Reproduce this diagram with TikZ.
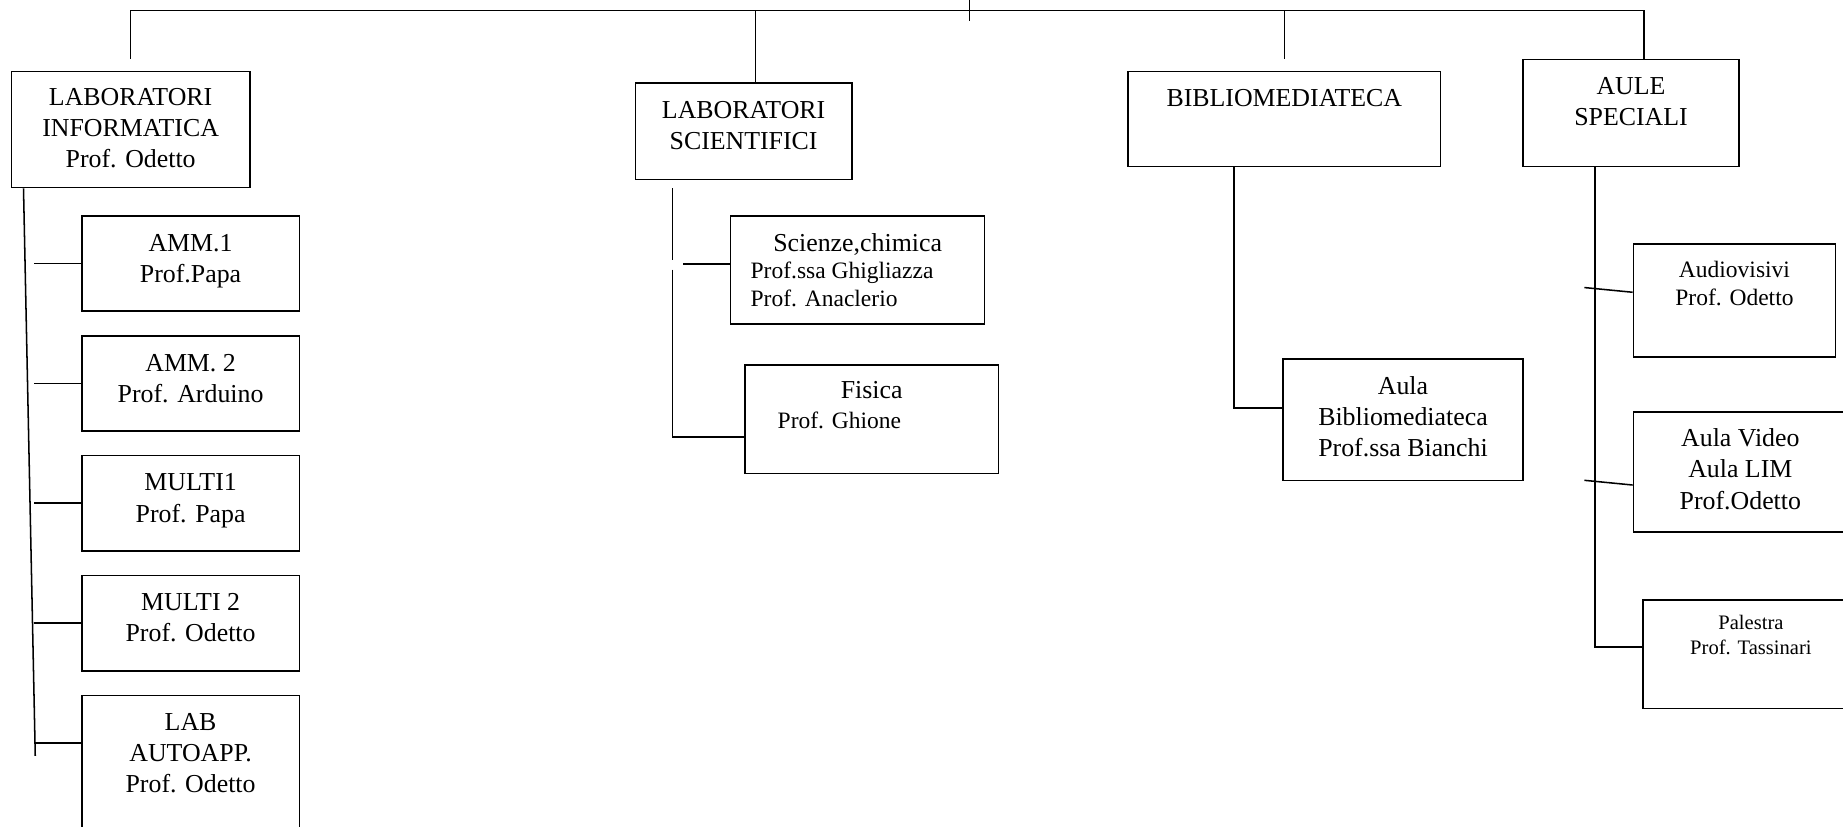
\documentclass[tikz,border=0pt]{standalone}
\usepackage{fontspec}
\setmainfont{Liberation Serif}
\newcommand{\alto}{\rule{0pt}{17pt}}
\tikzset{
  ufficio/.style={draw, line width=1.3pt, inner sep=0pt, anchor=north west},
  testo/.style={inner sep=0pt, anchor=north, align=center, font=\fontsize{22}{26.5}\selectfont},
  testopic/.style={testo, font=\fontsize{20}{24}\selectfont},
  testomin/.style={testo, font=\fontsize{17.5}{21}\selectfont},
}

\begin{document}
\begin{tikzpicture}[x=1pt, y=-1pt, line width=1.3pt]
        \clip (0,0) rectangle (1568,703);
        \fill[white] (0,0) rectangle (1568,703);
        % primo livello
        \node[ufficio, minimum width=203pt, minimum height=99pt] (info) at (9,60) {};
        \node[ufficio, minimum width=184pt, minimum height=82pt] (sci) at (540,70) {};
        \node[ufficio, minimum width=266pt, minimum height=81pt] (bib) at (959,60) {};
        \node[ufficio, minimum width=184pt, minimum height=91pt] (aule) at (1295,50) {};
        \node[testo] (infot) at ([yshift=-12pt]info.north) {\alto LABORATORI\\INFORMATICA\\Prof. Odetto};
        \node[testo] (scit) at ([yshift=-13pt]sci.north) {\alto LABORATORI\\SCIENTIFICI};
        \node[testo] (bibt) at ([yshift=-13pt]bib.north) {\alto BIBLIOMEDIATECA};
        \node[testo] (aulet) at ([yshift=-13pt]aule.north) {\alto AULE\\SPECIALI};
        % laboratori informatica
        \node[ufficio, minimum width=185pt, minimum height=81pt] (amm1) at (69,183) {};
        \node[ufficio, minimum width=185pt, minimum height=81pt] (amm2) at (69,285) {};
        \node[ufficio, minimum width=185pt, minimum height=81pt] (multi1) at (69,387) {};
        \node[ufficio, minimum width=185pt, minimum height=81pt] (multi2) at (69,489) {};
        \node[ufficio, minimum width=185pt, minimum height=130pt] (auto) at (69,591) {};
        \node[testo] (amm1t) at ([yshift=-13pt]amm1.north) {\alto AMM.1\\Prof.Papa};
        \node[testo] (amm2t) at ([yshift=-13pt]amm2.north) {\alto AMM. 2\\Prof. Arduino};
        \node[testo] (multi1t) at ([yshift=-13pt]multi1.north) {\alto MULTI1\\Prof. Papa};
        \node[testo] (multi2t) at ([yshift=-13pt]multi2.north) {\alto MULTI 2\\Prof. Odetto};
        \node[testo] (autot) at ([yshift=-13pt]auto.north) {\alto LAB\\AUTOAPP.\\Prof. Odetto};
        % laboratori scientifici
        \node[ufficio, minimum width=216pt, minimum height=92pt] (chim) at (621,183) {};
        \node[ufficio, minimum width=216pt, minimum height=92pt] (fis) at (633,310) {};
        \node[testo] (chimt) at ([yshift=-13pt]chim.north) {\alto Scienze,chimica};
        \node[testopic, anchor=north west, align=left] (chimp) at ([xshift=17pt, yshift=-36.5pt]chim.north west) {\alto Prof.ssa Ghigliazza\\Prof. Anaclerio};
        \node[testo] (fist) at ([yshift=-11pt]fis.north) {\alto Fisica};
        \node[testopic, anchor=north west] (fisp) at ([xshift=28pt, yshift=-36.5pt]fis.north west) {\alto Prof. Ghione};
        % bibliomediateca
        \node[ufficio, minimum width=204pt, minimum height=103pt] (aulabib) at (1091,305) {};
        \node[testo] (aulabibt) at ([yshift=-13pt]aulabib.north) {\alto Aula\\Bibliomediateca\\Prof.ssa Bianchi};
        % aule speciali
        \node[ufficio, minimum width=172pt, minimum height=96pt] (audio) at (1389,207) {};
        \node[ufficio, minimum width=182pt, minimum height=102pt] (video) at (1389,350) {};
        \node[ufficio, minimum width=184pt, minimum height=92pt] (palestra) at (1397,510) {};
        \node[testopic] (audiot) at ([yshift=-11.5pt]audio.north) {\alto Audiovisivi\\Prof. Odetto};
        \node[testo] (videot) at ([yshift=-12.5pt]video.north) {\alto Aula Video\\Aula LIM\\Prof.Odetto};
        \node[testomin] (palestrat) at ([yshift=-8pt]palestra.north) {\alto Palestra\\Prof. Tassinari};
        % collegamenti
        \coordinate (barra) at (825,9);
        \draw ([yshift=10pt]info.north) -- (info.north |- barra) -- ([xshift=11pt]aule.north |- barra) -- ([xshift=11pt]aule.north);
        \draw ([xshift=10pt]sci.north) -- ([xshift=10pt]sci.north |- barra);
        \draw ([yshift=10pt]bib.north) -- (bib.north |- barra);
        \draw ([yshift=9pt]barra) -- ([yshift=-9pt]barra);
        \coordinate (infofine) at (30,643);
        \draw ([xshift=11pt]info.south west) -- (infofine);
        \foreach \b in {amm1,amm2,multi1,multi2}
          \draw (\b.west) -- ++(-40,0);
        \draw ([yshift=-41pt]auto.north west) -- ++(-40,0);
        \draw ([xshift=32pt, yshift=-7pt]sci.south west) -- ++(0,61);
        \draw ([xshift=32pt, yshift=-76pt]sci.south west) |- ([yshift=-15pt]fis.west);
        \draw ([yshift=5pt]chim.west) -- ++(-40,0);
        \draw ([xshift=91pt]bib.south west) |- ([yshift=10pt]aulabib.west);
        \draw ([xshift=62pt]aule.south west) |- ([yshift=6pt]palestra.west);
        \draw ([yshift=7pt]audio.west) -- ++(-41,-4);
        \draw ([yshift=-11pt]video.west) -- ++(-41,-4);
\end{tikzpicture}
\end{document}
